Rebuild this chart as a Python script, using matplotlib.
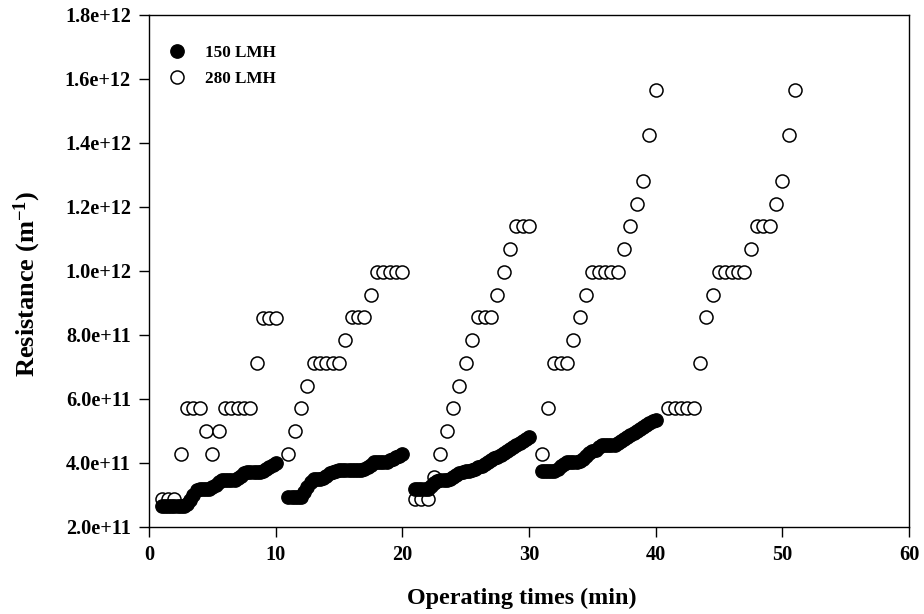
import matplotlib
matplotlib.use("Agg")
import matplotlib.pyplot as plt
import numpy as np
from matplotlib.ticker import FuncFormatter

plt.rcParams["font.family"] = ["Liberation Serif", "DejaVu Serif"]
plt.rcParams["font.weight"] = "bold"
plt.rcParams["mathtext.default"] = "regular"

# 150 LMH, one run per filtration cycle, sampled every 0.25 min (values in 1e11 m^-1)
T150_START = [1, 11, 21, 31]
R150 = [
    [2.66, 2.66, 2.66, 2.66, 2.66, 2.66, 2.66, 2.66,
     2.72, 2.85, 3.0, 3.15, 3.2, 3.2, 3.2, 3.2, 3.25, 3.32, 3.4, 3.47, 3.47, 3.47, 3.47,
     3.47, 3.52, 3.6, 3.68, 3.73, 3.73, 3.73, 3.73, 3.73, 3.75, 3.8, 3.87, 3.94, 4.01],
    [2.93, 2.93, 2.93, 2.93, 2.93,
     3.1, 3.26, 3.4, 3.49, 3.49, 3.49, 3.52, 3.6, 3.68, 3.72, 3.76, 3.78, 3.78, 3.78,
     3.78, 3.78, 3.78, 3.78, 3.78, 3.8, 3.87, 3.95, 4.02, 4.04, 4.04, 4.04, 4.04, 4.08,
     4.13, 4.18, 4.23, 4.28],
    [3.2, 3.2, 3.2, 3.2, 3.2,
     3.28, 3.36, 3.44, 3.47, 3.47, 3.47, 3.5, 3.56, 3.62, 3.68, 3.72, 3.76, 3.76, 3.78,
     3.82, 3.87, 3.92, 3.98, 4.04, 4.1, 4.15, 4.2, 4.26, 4.32, 4.38, 4.44, 4.5, 4.56,
     4.62, 4.68, 4.74, 4.8],
    [3.75, 3.75, 3.75, 3.75, 3.75,
     3.82, 3.9, 3.97, 4.02, 4.02, 4.02, 4.02, 4.06, 4.14, 4.22, 4.3, 4.36, 4.42, 4.5,
     4.55, 4.56, 4.56, 4.56, 4.57, 4.62, 4.68, 4.75, 4.82, 4.88, 4.94, 5.0, 5.06, 5.12,
     5.18, 5.24, 5.3, 5.35],
]
DT150 = 0.25

# 280 LMH, sampled every 0.5 min (values in 1e11 m^-1)
T280_START = [1, 11, 21, 31, 41]
R280 = [
    [2.87, 2.87, 2.87, 4.28, 5.71, 5.71, 5.71, 4.99, 4.28, 4.99, 5.71, 5.71, 5.71, 5.71,
     5.71, 7.13, 8.54, 8.54, 8.54],
    [4.28, 4.99, 5.71, 6.41, 7.13, 7.13, 7.13, 7.13, 7.13, 7.84, 8.55, 8.55, 8.55, 9.26,
     9.97, 9.97, 9.97, 9.97, 9.97],
    [2.87, 2.87, 2.87, 3.57, 4.28, 4.99, 5.71, 6.41, 7.13, 7.84, 8.55, 8.55, 8.55, 9.26,
     9.97, 10.69, 11.4, 11.4, 11.4],
    [4.28, 5.71, 7.13, 7.13, 7.13, 7.84, 8.55, 9.26, 9.97, 9.97, 9.97, 9.97, 9.97, 10.69,
     11.4, 12.1, 12.8, 14.24, 15.66],
    [5.71, 5.71, 5.71, 5.71, 5.71, 7.13, 8.55, 9.26, 9.97, 9.97, 9.97, 9.97, 9.97, 10.69,
     11.4, 11.4, 11.4, 12.1, 12.8, 14.24, 15.66],
]
DT280 = 0.5


def series(starts, runs, dt):
    xs, ys = [], []
    for t0, r in zip(starts, runs):
        xs.extend(t0 + dt * np.arange(len(r)))
        ys.extend(np.array(r) * 1e11)
    return np.array(xs), np.array(ys)


x150, y150 = series(T150_START, R150, DT150)
x280, y280 = series(T280_START, R280, DT280)

fig = plt.figure(figsize=(9.24, 6.14), dpi=100)
ax = fig.add_axes([0.1613, 0.1417, 0.8225, 0.8339])

ax.plot(x150, y150, "o", ms=9.6, mfc="black", mec="black", mew=1.0, ls="none",
        label="150 LMH", zorder=3)
ax.plot(x280, y280, "o", ms=9.4, mfc="white", mec="black", mew=1.1, ls="none",
        label="280 LMH", zorder=2)

ax.set_xlim(0, 60)
ax.set_ylim(2e11, 1.8e12)
ax.set_xticks(np.arange(0, 61, 10))
ax.set_yticks(np.arange(2e11, 1.81e12, 2e11))
ax.yaxis.set_major_formatter(FuncFormatter(lambda v, _: f"{v:.1e}"))
ax.tick_params(direction="out", length=7, width=1, labelsize=14.6, pad=6,
               top=False, right=False)
for s in ax.spines.values():
    s.set_linewidth(1.0)

ax.set_xlabel("Operating times (min)", fontsize=17.4, fontweight="bold")
ax.set_ylabel(r"Resistance (m$^{-1}$)", fontsize=19, fontweight="bold")
ax.xaxis.set_label_coords(0.491, -0.118)
ax.yaxis.set_label_coords(-0.14, 0.475)

ax.legend(loc="upper left", bbox_to_anchor=(0.025, 0.942), frameon=False,
          fontsize=12.3, handlelength=1.0, handletextpad=1.15, labelspacing=0.6,
          borderpad=0, borderaxespad=0)

fig.savefig("out.png", dpi=100)
